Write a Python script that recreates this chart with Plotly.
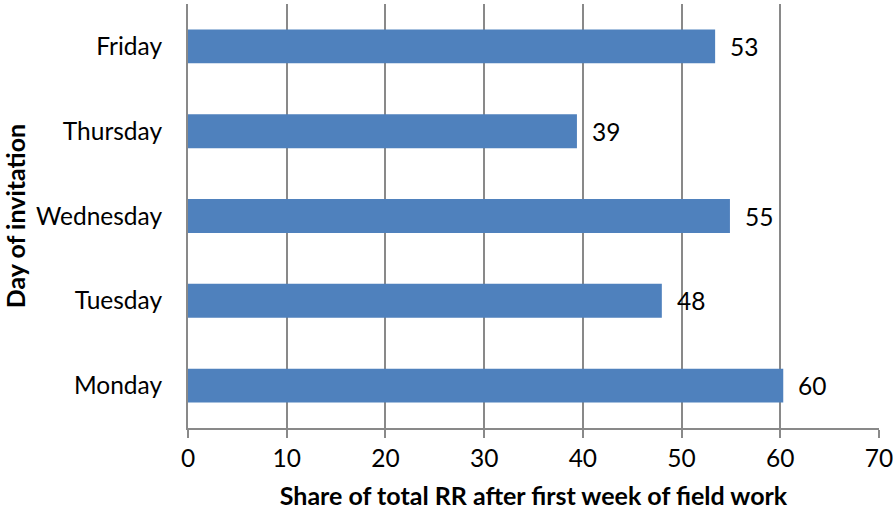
import plotly.graph_objects as go

days = ["Monday", "Tuesday", "Wednesday", "Thursday", "Friday"]
shares = [60.3, 48.0, 54.9, 39.4, 53.4]
labels = ["60", "48", "55", "39", "53"]
x_ticks = [0, 10, 20, 30, 40, 50, 60, 70]

FONT = "Lato"
GRID = "#898989"
FS = 24.5

fig = go.Figure()
fig.add_trace(go.Bar(
    y=days, x=shares, orientation="h",
    marker=dict(color="#4F81BD", line=dict(width=0)),
    width=0.4, showlegend=False, hoverinfo="skip",
))
for d, v, t in zip(days, shares, labels):
    fig.add_annotation(x=v, y=d, text=t, showarrow=False, xanchor="left",
                       xshift=13, font=dict(family=FONT, size=FS, color="#000000"))

fig.update_layout(
    width=893, height=511,
    margin=dict(l=188, r=14, t=4, b=83),
    plot_bgcolor="white", paper_bgcolor="white",
    font=dict(family=FONT, size=FS, color="#000000"),
)
fig.update_xaxes(
    range=[0, 70], tickvals=x_ticks, showgrid=True, gridcolor=GRID, gridwidth=2,
    showline=True, linecolor=GRID, linewidth=2, ticks="outside", ticklen=8,
    tickcolor=GRID, tickwidth=2, zeroline=False, fixedrange=True,
    tickfont=dict(family=FONT, size=FS), ticklabeloverflow="allow",
    automargin=False,
    title=dict(text="<b>Share of total RR after first week of field work</b>",
               font=dict(family=FONT, size=25), standoff=16),
)
fig.update_yaxes(
    categoryorder="array", categoryarray=days,
    showgrid=False, showline=True, linecolor=GRID, linewidth=2, ticks="",
    ticklabelstandoff=19, zeroline=False, fixedrange=True, automargin=False,
    tickfont=dict(family=FONT, size=FS),
    title=dict(text="<b>Day of invitation</b>", font=dict(family=FONT, size=25), standoff=8),
)
fig.write_html("out.html")
